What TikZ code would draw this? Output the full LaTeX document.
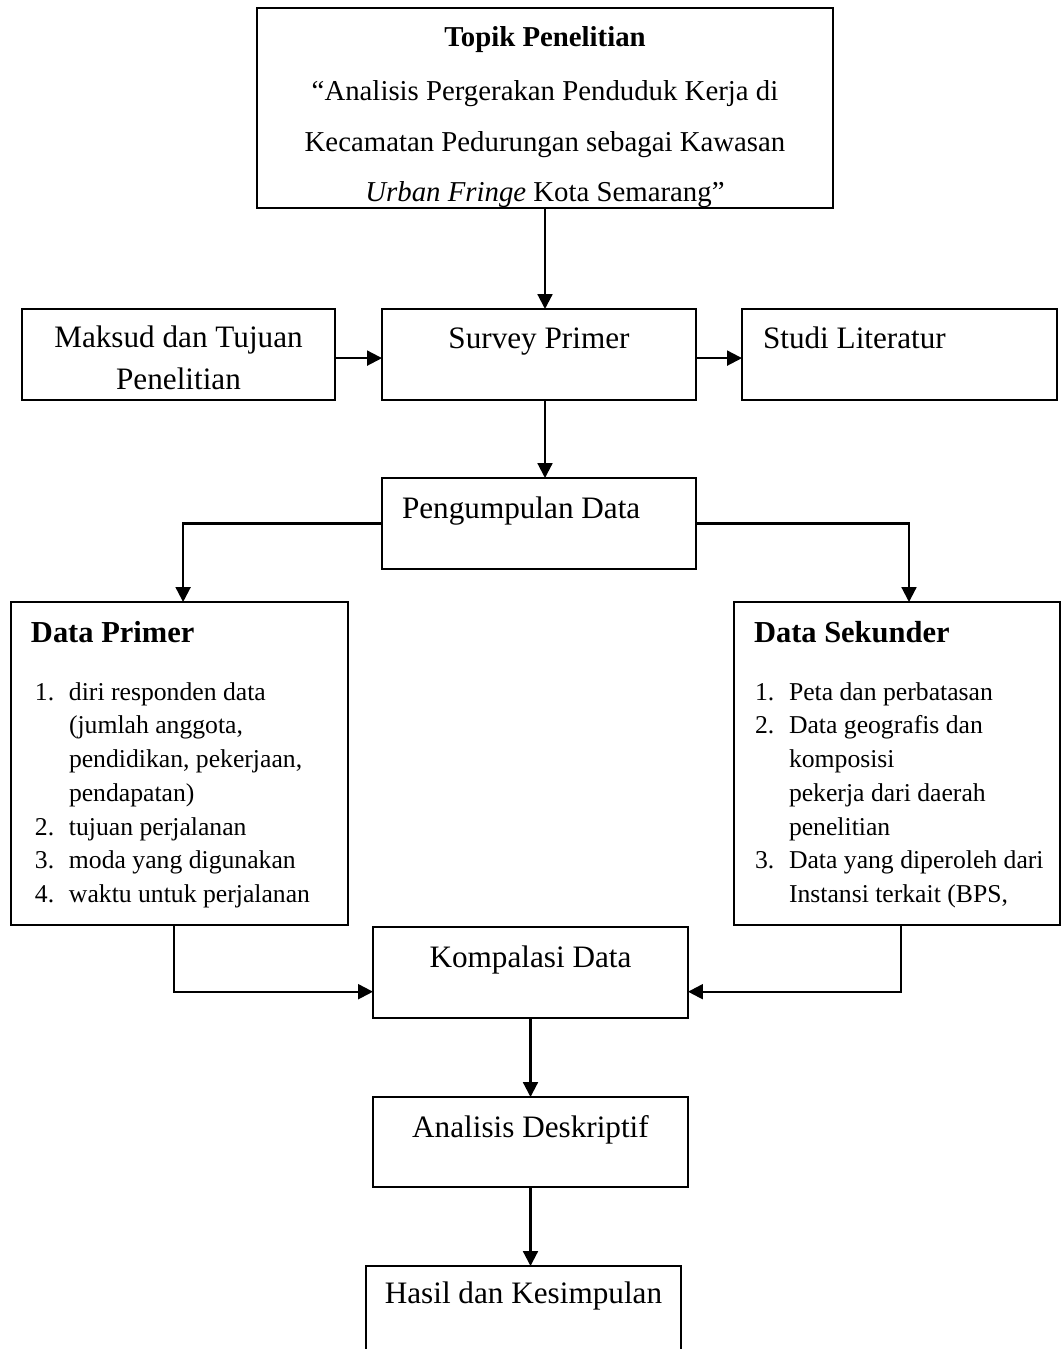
\documentclass[tikz,border=0pt]{standalone}
\usepackage{fontspec}
\setmainfont{Liberation Serif}
\usetikzlibrary{arrows.meta}
\newdimen\px \px=0.41667pt
\tikzstyle{box} = [draw,line width=0.85pt,inner sep=0pt,outer sep=0pt,font=\fontsize{13}{17.9}\selectfont]
\tikzstyle{link} = [line width=0.9pt,-{Triangle[length=6.2pt,width=6.2pt]}]
\newcommand{\boxtext}[3]{\parbox[c][#2\px][t]{#1\px}{#3}}
\newcommand{\itemno}[1]{\makebox[34\px][l]{#1}}
\newcommand{\listfont}{\fontsize{10.7}{14.08}\selectfont}
\newcommand{\headfont}{\fontsize{12.7}{15}\selectfont\bfseries}

\begin{document}
\begin{tikzpicture}[x=0.41667pt,y=-0.41667pt]
\useasboundingbox (0,0) rectangle (1061,1349);

\node[box,font=\fontsize{12}{21.25}\selectfont] (topik) at (545,108) {\boxtext{576}{200}{\centering\rule{0pt}{38\px}\textbf{Topik Penelitian}\\[3\px]
  “Analisis Pergerakan Penduduk Kerja di\\
  Kecamatan Pedurungan sebagai Kawasan\\
  \textit{Urban Fringe} Kota Semarang”}};

\node[box] (maksud) at (178.5,354.5) {\boxtext{313}{91}{\centering\rule{0pt}{38\px}Maksud dan Tujuan\\ Penelitian}};
\node[box] (survey) at (539,354.5)   {\boxtext{314}{91}{\centering\rule{0pt}{39\px}Survey Primer}};
\node[box] (studi)  at (899.5,354.5) {\boxtext{315}{91}{\raggedright\hspace*{21\px}\rule{0pt}{39\px}Studi Literatur}};
\node[box] (kumpul) at (539,523.5)   {\boxtext{314}{91}{\raggedright\hspace*{20\px}\rule{0pt}{40\px}Pengumpulan Data}};

\node[box] (primer) at (179.5,763.5) {\boxtext{337}{323}{\raggedright\rule{0pt}{40\px}\hspace*{20\px}{\headfont Data Primer}\par
  \listfont\vspace{24.2\px}\leftskip=24\px
  \itemno{1.}diri responden data\\
  \hspace*{34\px}(jumlah anggota,\\
  \hspace*{34\px}pendidikan, pekerjaan,\\
  \hspace*{34\px}pendapatan)\\
  \itemno{2.}tujuan perjalanan\\
  \itemno{3.}moda yang digunakan\\
  \itemno{4.}waktu untuk perjalanan\par}};
\node[box] (sekunder) at (897,763.5) {\boxtext{326}{323}{\raggedright\rule{0pt}{40\px}\hspace*{20\px}{\headfont Data Sekunder}\par
  \listfont\vspace{24.2\px}\leftskip=21\px
  \itemno{1.}Peta dan perbatasan\\
  \itemno{2.}Data geografis dan\\
  \hspace*{34\px}komposisi\\
  \hspace*{34\px}pekerja dari daerah\\
  \hspace*{34\px}penelitian\\
  \itemno{3.}Data yang diperoleh dari\\
  \hspace*{34\px}Instansi terkait (BPS,\par}};

\node[box] (kompilasi) at (530.5,972.5) {\boxtext{315}{91}{\centering\rule{0pt}{40\px}Kompalasi Data}};
\node[box] (analisis)  at (530.5,1142)  {\boxtext{315}{90}{\centering\rule{0pt}{40\px}Analisis Deskriptif}};
\node[box] (hasil)     at (523.5,1311.5) {\boxtext{315}{91}{\centering\rule{0pt}{37\px}Hasil dan Kesimpulan}};

\draw[link] (topik.south) -- (topik.south |- survey.north);
\draw[link] ([yshift=-1.5pt]maksud.east) -- ([yshift=-1.5pt]survey.west);
\draw[link] ([yshift=-1.5pt]survey.east) -- ([yshift=-1.5pt]studi.west);
\draw[link] (survey.south -| topik.south) -- (kumpul.north -| topik.south);
\draw[link] (kumpul.west) -| ([xshift=1.5pt]primer.north);
\draw[link] (kumpul.east) -| ([xshift=5pt]sekunder.north);
\draw[link] ([xshift=-2.3pt]primer.south) |- ([yshift=-8pt]kompilasi.west);
\draw[link] ([xshift=1.7pt]sekunder.south) |- ([yshift=-8pt]kompilasi.east);
\draw[link] (kompilasi) -- (analisis);
\draw[link] (analisis.south) -- (analisis.south |- hasil.north);
\end{tikzpicture}
\end{document}
